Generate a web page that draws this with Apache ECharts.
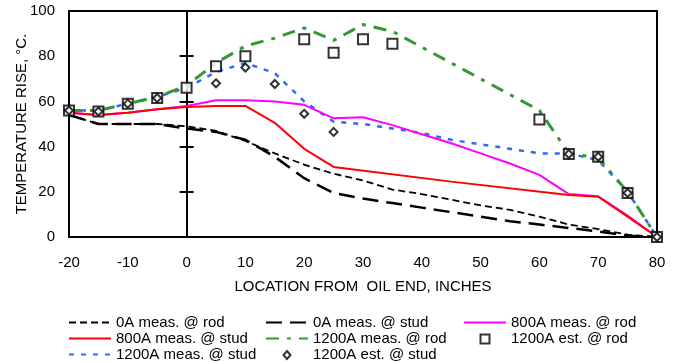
<!DOCTYPE html>
<html>
<head>
<meta charset="utf-8">
<script src="https://cdn.jsdelivr.net/npm/echarts@6/dist/echarts.min.js"></script>
<style>
  html, body { margin: 0; padding: 0; background: #fff; }
  #chart { width: 680px; height: 362px; }
</style>
</head>
<body>
<div id="chart"></div>
<script>
// location from oil end, inches
var xs = [-20, -15, -10, -5, 0, 5, 10, 15, 20, 25, 30, 35, 40, 45, 50, 55, 60, 65, 70, 75, 80];

var rod0A   = [54, 50, 50, 50, 49, 47, 42.5, 37, 32, 28, 25, 21, 19, 16.5, 14, 12, 9, 5.5, 3.5, 1, 0];
var stud0A  = [54, 50, 50, 50, 48, 46.5, 43, 35.5, 26, 19.5, 17, 15, 13, 11, 9, 7, 5.5, 4, 2.5, 0.5, 0];
var stud800 = [55, 54, 55, 56.5, 57.5, 58, 58, 50.5, 39, 31, null, null, null, 24.5, null, null, null, 18.6, 17.8, 9, 0];
var rod800  = [55, 54, 55, 56.5, 58, 60.5, 60.5, 60, 58.5, 52.5, 53, 49.5, 45.5, 41.5, 37, 32.5, 27.5, 19, 18, 9.5, 0];
var rod1200 = [56, 56, 59, 62, 67, 77, 84.5, 88, 92.5, 87, 94, 91, null, null, null, null, 56, 37, 35, 20, 0];
var stud1200 = [56, 56, 59, 62, 66, 73, 77, 72.5, 60, 51, 50, 48, 46, 43, 41, 39, 37, 37, 34, 20, 0];

var estRodX  = [-20, -15, -10, -5, 0, 5, 10, 20, 25, 30, 35, 60, 65, 70, 75, 80];
var estRodY  = [56, 55.5, 59, 61.5, 66, 75.5, 80, 87.5, 81.5, 87.5, 85.5, 52, 36.7, 35.5, 19.5, 0];
var estStudX = [-20, -15, -10, -5, 5, 10, 15, 20, 25, 65, 70, 75, 80];
var estStudY = [56, 55.5, 59, 61.5, 68, 75, 67.7, 54.5, 46.5, 36.7, 35.5, 19.5, 0];

var xTicks = [-20, -10, 0, 10, 20, 30, 40, 50, 60, 70, 80];
var yTicks = [0, 20, 40, 60, 80, 100];

function pairs(x, y) {
  var out = [];
  for (var i = 0; i < x.length; i++) {
    if (y[i] != null) out.push([x[i], y[i]]);
  }
  return out;
}

var font = 'Liberation Sans, Arial, sans-serif';

function lineSeries(name, data, color, width, dash, z) {
  return {
    name: name,
    type: 'line',
    data: data,
    symbol: 'none',
    z: z || 2,
    lineStyle: { color: color, width: width, type: dash },
    itemStyle: { color: color }
  };
}

function yAxisBase() {
  return {
    type: 'value',
    min: yTicks[0],
    max: yTicks[yTicks.length - 1],
    interval: 20,
    splitLine: { show: false }
  };
}

// legend entries: lines hide the symbol, markers get a small padded icon
function lineItem(name) {
  return { name: name, itemStyle: { opacity: 0 } };
}
var squareIcon = 'path://M0,0 M14,14 M2.5,2.5 L11.5,2.5 L11.5,11.5 L2.5,11.5 Z';
var diamondIcon = 'path://M0,0 M14,14 M7,3 L10.5,7 L7,11 L3.5,7 Z';

var chart = echarts.init(document.getElementById('chart'));

var legendCommon = {
  orient: 'vertical',
  padding: 0,
  height: 70,
  itemWidth: 42,
  itemHeight: 14,
  itemGap: 1,
  symbolKeepAspect: true,
  textStyle: { fontFamily: font, fontSize: 15, color: '#000', lineHeight: 15 }
};

chart.setOption({
  animation: false,
  backgroundColor: '#fff',
  textStyle: { fontFamily: font },
  grid: {
    left: 69, right: 23, top: 11, bottom: 125,
    show: true, borderColor: '#000', borderWidth: 2
  },
  legend: [
    Object.assign({ left: 68, top: 315, data: [
      lineItem('0A meas. @ rod'), lineItem('800A meas. @ stud'), lineItem('1200A meas. @ stud')
    ] }, legendCommon),
    Object.assign({ left: 265, top: 315, data: [
      lineItem('0A meas. @ stud'), lineItem('1200A meas. @ rod'), { name: '1200A est. @ stud', icon: diamondIcon }
    ] }, legendCommon),
    Object.assign({ left: 463, top: 315, data: [
      lineItem('800A meas. @ rod'), { name: '1200A est. @ rod', icon: squareIcon }
    ] }, legendCommon)
  ],
  xAxis: {
    type: 'value',
    min: xTicks[0],
    max: xTicks[xTicks.length - 1],
    interval: 10,
    name: 'LOCATION FROM  OIL END, INCHES',
    nameLocation: 'middle',
    nameGap: 42,
    nameMoveOverlap: false,
    nameTextStyle: { fontFamily: font, fontSize: 15, color: '#000' },
    axisLine: { onZero: false, lineStyle: { color: '#000', width: 2 } },
    axisTick: { show: false },
    axisLabel: { fontFamily: font, fontSize: 15, color: '#000', margin: 18 },
    splitLine: { show: false }
  },
  yAxis: [
    Object.assign(yAxisBase(), {
      position: 'left',
      name: 'TEMPERATURE RISE, °C.',
      nameLocation: 'middle',
      nameGap: 40,
      nameMoveOverlap: false,
      nameTextStyle: { fontFamily: font, fontSize: 15, color: '#000' },
      axisLine: { onZero: false, lineStyle: { color: '#000', width: 2 } },
      axisTick: { show: false },
      axisLabel: { fontFamily: font, fontSize: 15, color: '#000', margin: 14 }
    }),
    // vertical line at x = 0 with crossing ticks
    Object.assign(yAxisBase(), {
      position: 'left',
      axisLine: { show: true, onZero: true, onZeroAxisIndex: 0, lineStyle: { color: '#000', width: 2 } },
      axisTick: { show: true, length: 7, lineStyle: { color: '#000', width: 2 } },
      axisLabel: { show: false }
    }),
    Object.assign(yAxisBase(), {
      position: 'left',
      axisLine: { show: false, onZero: true, onZeroAxisIndex: 0 },
      axisTick: { show: true, inside: true, length: 7, lineStyle: { color: '#000', width: 2 } },
      axisLabel: { show: false }
    })
  ],
  series: [
    lineSeries('0A meas. @ rod', pairs(xs, rod0A), '#000', 1.8, [7, 4]),
    lineSeries('800A meas. @ stud', pairs(xs, stud800), '#ff0000', 2, 'solid', 4),
    lineSeries('1200A meas. @ stud', pairs(xs, stud1200), '#3366ff', 2.5, [5, 7]),
    lineSeries('0A meas. @ stud', pairs(xs, stud0A), '#000', 2.5, [16, 8]),
    lineSeries('1200A meas. @ rod', pairs(xs, rod1200), '#339933', 3, [13, 8, 4, 8]),
    {
      name: '1200A est. @ stud',
      type: 'scatter',
      data: pairs(estStudX, estStudY),
      symbol: 'diamond',
      symbolSize: 8,
      z: 6,
      itemStyle: { color: '#fff', borderColor: '#000', borderWidth: 2 }
    },
    lineSeries('800A meas. @ rod', pairs(xs, rod800), '#ff00ff', 2, 'solid', 3),
    {
      name: '1200A est. @ rod',
      type: 'scatter',
      data: pairs(estRodX, estRodY),
      symbol: 'rect',
      symbolSize: 10,
      z: 5,
      itemStyle: { color: '#fff', borderColor: '#000', borderWidth: 2 }
    }
  ]
});
</script>
</body>
</html>
